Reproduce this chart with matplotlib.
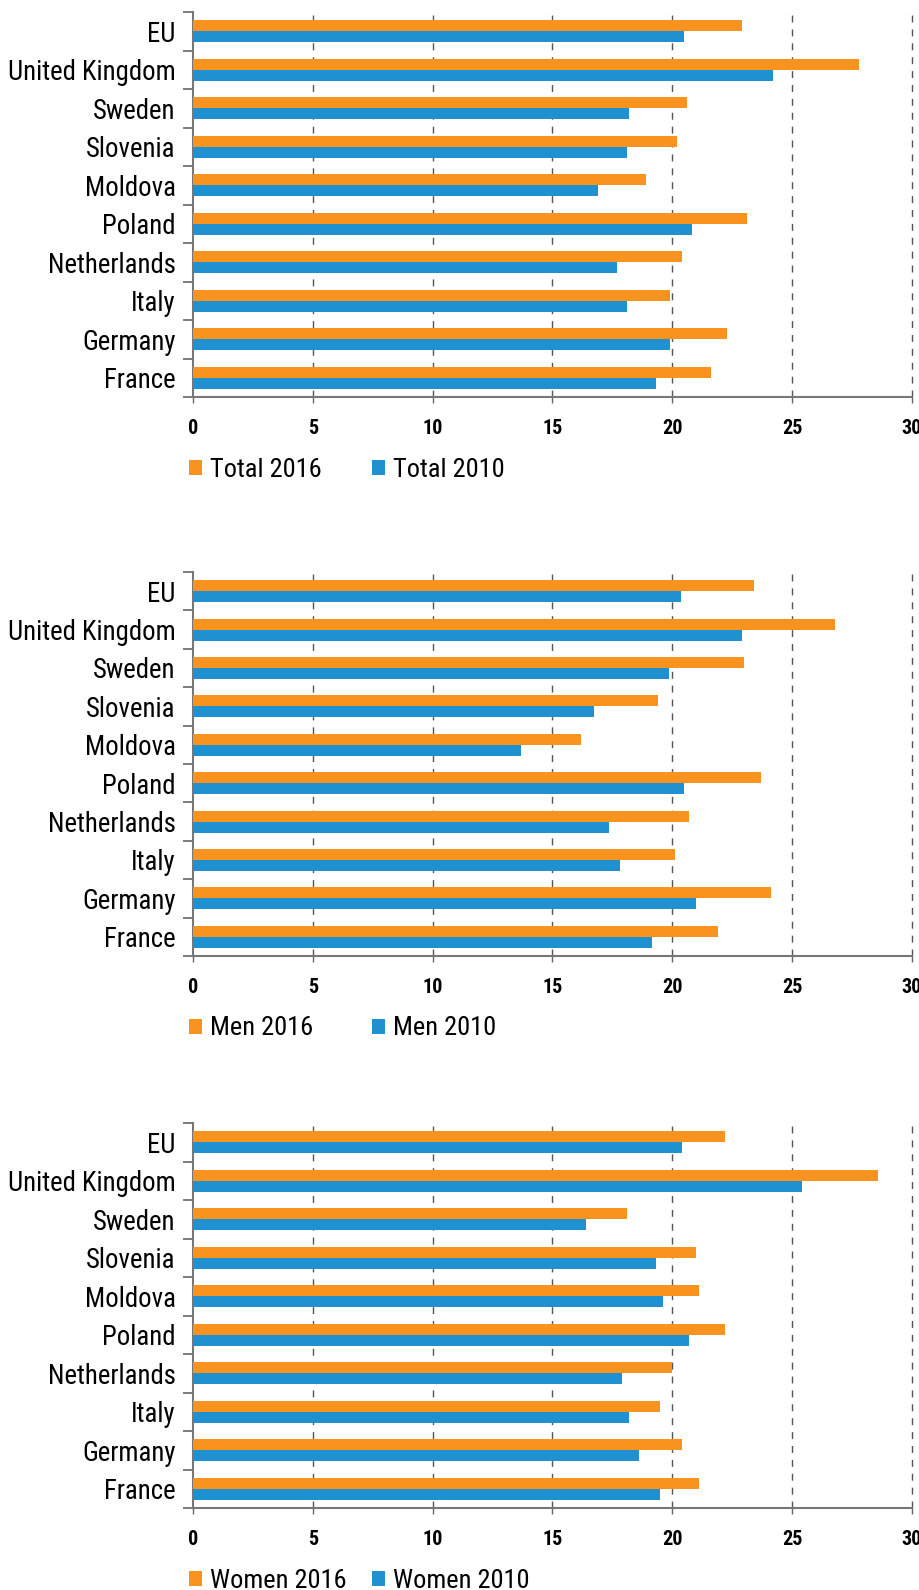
import numpy as np
import matplotlib
matplotlib.use("Agg")
import matplotlib.pyplot as plt
from matplotlib import font_manager
from matplotlib.font_manager import FontProperties

countries = ["EU", "United Kingdom", "Sweden", "Slovenia", "Moldova",
             "Poland", "Netherlands", "Italy", "Germany", "France"]

total_2016 = [22.9, 27.8, 20.6, 20.2, 18.9, 23.1, 20.4, 19.9, 22.3, 21.6]
total_2010 = [20.5, 24.2, 18.2, 18.1, 16.9, 20.8, 17.7, 18.1, 19.9, 19.3]

men_2016 = [23.4, 26.8, 23.0, 19.4, 16.2, 23.7, 20.7, 20.1, 24.1, 21.9]
men_2010 = [20.35, 22.9, 19.85, 16.75, 13.7, 20.5, 17.35, 17.8, 21.0, 19.15]

women_2016 = [22.2, 28.6, 18.1, 21.0, 21.1, 22.2, 20.0, 19.5, 20.4, 21.1]
women_2010 = [20.4, 25.4, 16.4, 19.3, 19.6, 20.7, 17.9, 18.2, 18.6, 19.5]

xticks = [0, 5, 10, 15, 20, 25, 30]

ORANGE = "#F7931E"
BLUE = "#1F91D0"

#!look for a narrow / condensed font file
files = [f.fname for f in font_manager.fontManager.ttflist]
def find_font(keys, style):
    # exact file names first
    for k in keys:
        for f in files:
            if f.split("/")[-1].lower() == k + "-" + style + ".ttf":
                return f
    bad = ["oblique", "italic", "light", "extra", "semi", "medium", "black", "thin"]
    for k in keys:
        for f in files:
            base = f.split("/")[-1].lower()
            if k in base and (("bold" in base) == (style == "bold")) \
                    and not any(b in base for b in bad):
                return f
    return None

keys = ["liberationsansnarrow", "robotocondensed", "opensanscondensed",
        "dejavusanscondensed", "condensed", "narrow"]
reg = find_font(keys, "regular")
bld = find_font(keys, "bold")
if reg:
    lab_font = FontProperties(fname=reg, size=19.3)
    leg_font = FontProperties(fname=reg, size=19)
else:
    lab_font = FontProperties(family="DejaVu Sans", size=15)
    leg_font = FontProperties(family="DejaVu Sans", size=15)
if bld:
    num_font = FontProperties(fname=bld, size=14.5)
else:
    num_font = FontProperties(family="DejaVu Sans", weight="bold", size=11)


def plot_panel(ax, v16, v10, lab16, lab10):
    n = len(countries)
    y = np.arange(n)[::-1]
    h = 0.286
    b16 = ax.barh(y + h/2, v16, height=h, color=ORANGE, zorder=3)
    b10 = ax.barh(y - h/2, v10, height=h, color=BLUE, zorder=3)
    ax.set_xlim(0, 30)
    ax.set_ylim(-0.5, n - 0.5)
    ax.set_yticks(y)
    ax.set_yticklabels(countries, fontproperties=lab_font)
    ax.set_yticks(np.arange(-0.5, n, 1), minor=True)
    ax.tick_params(axis='y', which='major', length=0, pad=12.5)
    ax.tick_params(axis='y', which='minor', length=7, width=1.2, color='#666666')
    ax.set_xticks(xticks)
    ax.set_xticklabels([str(t) for t in xticks], fontproperties=num_font)
    ax.tick_params(axis='x', length=4, width=1, color='#666666', pad=12)
    for t in xticks[1:]:
        ax.axvline(t, color='#555555', lw=1, ls=(0, (5, 5)), zorder=1,
                   clip_on=False)
    for s in ['top', 'right']:
        ax.spines[s].set_visible(False)
    for s in ['left', 'bottom']:
        ax.spines[s].set_color('#777777')
        ax.spines[s].set_linewidth(1.5)
    leg1 = ax.legend(handles=[b16], labels=[lab16], loc='lower left',
                     bbox_to_anchor=(-0.006, -0.22), frameon=False,
                     prop=leg_font, handlelength=0.5, handleheight=0.5,
                     handletextpad=0.3, borderpad=0, borderaxespad=0)
    ax.add_artist(leg1)
    ax.legend(handles=[b10], labels=[lab10], loc='lower left',
              bbox_to_anchor=(0.249, -0.22), frameon=False,
              prop=leg_font, handlelength=0.5, handleheight=0.5,
              handletextpad=0.3, borderpad=0, borderaxespad=0)


fig = plt.figure(figsize=(9.2, 15.9), dpi=100)
left = 193 / 920
width = (912 - 193) / 920
panels = [(12, 397, total_2016, total_2010, "Total 2016", "Total 2010"),
          (572, 956, men_2016, men_2010, "Men 2016", "Men 2010"),
          (1123, 1508, women_2016, women_2010, "Women 2016", "Women 2010")]
for top, bot, v16, v10, l16, l10 in panels:
    ax = fig.add_axes([left, 1 - bot / 1590, width, (bot - top) / 1590])
    plot_panel(ax, v16, v10, l16, l10)

fig.savefig("out.png", dpi=100)
